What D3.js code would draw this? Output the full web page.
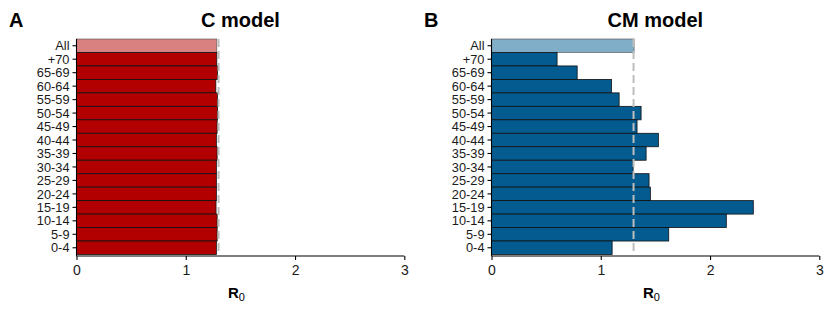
<!DOCTYPE html>
<html><head><meta charset="utf-8">
<script src="https://cdn.jsdelivr.net/npm/d3@7"></script>
<style>body{margin:0;background:#fff}svg{display:block;font-family:"Liberation Sans",Arial,sans-serif}</style>
</head><body><svg id="c" width="830" height="312"></svg>
<script>
const categories = ["All","+70","65-69","60-64","55-59","50-54","45-49","40-44","35-39","30-34","25-29","20-24","15-19","10-14","5-9","0-4"];
const cModel = [1.284,1.284,1.29,1.275,1.29,1.29,1.287,1.28,1.287,1.28,1.28,1.28,1.277,1.287,1.287,1.28];
const cmModel = [1.305,0.60,0.784,1.098,1.168,1.369,1.332,1.527,1.415,1.296,1.442,1.454,2.396,2.149,1.622,1.104];
const meanR0 = [1.30,1.30];
const xTicks = [0,1,2,3];
const panels = [
  {tag:"A", title:"C model", values:cModel, mean:meanR0[0], x0:76.5, main:"#b20000", light:"#d98080"},
  {tag:"B", title:"CM model", values:cmModel, mean:meanR0[1], x0:491.5, main:"#035b8f", light:"#80adc7"}
];
const svg = d3.select("#c");
const plotTop = 39, plotBottom = 254.5;
panels.forEach(p => {
  const g = svg.append("g");
  const x = d3.scaleLinear().domain([0,3]).range([p.x0, p.x0 + 327.8]);
  const y = d3.scaleBand().domain(categories).range([plotTop, plotBottom]).padding(0);
  g.selectAll("rect.bar").data(p.values).join("rect")
    .attr("x", x(0)).attr("y", (d,i)=>y(categories[i]))
    .attr("width", d => x(d) - x(0)).attr("height", y.bandwidth())
    .attr("fill", (d,i)=> i===0 ? p.light : p.main)
    .attr("stroke", (d,i)=> i===0 ? "#555" : "#111")
    .attr("stroke-opacity", (d,i)=> i===0 ? 0.8 : 1)
    .attr("stroke-width", 0.8);
  g.append("line").attr("x1", x(p.mean)).attr("x2", x(p.mean))
    .attr("y1", plotTop).attr("y2", plotBottom)
    .attr("stroke", "#bdbdbd").attr("stroke-width", 2).attr("stroke-dasharray", "8,4");
  const xa = g.append("g").attr("transform", `translate(0,${plotBottom+1.5})`)
    .call(d3.axisBottom(x).tickValues(xTicks).tickFormat(d3.format("d")).tickSize(4).tickPadding(5));
  const ya = g.append("g").attr("transform", `translate(${x(0)},0)`)
    .call(d3.axisLeft(y).tickSize(4).tickPadding(3));
  [xa, ya].forEach(a => {
    a.select(".domain").attr("stroke", "#000").attr("stroke-width", 1.1);
    a.selectAll(".tick line").attr("stroke", "#000").attr("stroke-width", 1.1);
    a.selectAll("text").attr("fill", "#1a1a1a").style("font-family", "'Liberation Sans',Arial,sans-serif");
  });
  xa.selectAll("text").style("font-size", "14px").attr("dy", "0.72em");
  ya.selectAll("text").style("font-size", "12.8px").attr("dy", "0.36em");
  xa.select(".domain").attr("d", `M${x(0)},0H${x(3)}`);
  ya.select(".domain").attr("d", `M0,${plotTop}V${plotBottom+1.5}`);
  const cx = (x(0) + x(3)) / 2;
  g.append("text").attr("x", cx).attr("y", 26.5).attr("text-anchor", "middle")
    .style("font-size", "20px").style("font-weight", "bold").text(p.title);
  g.append("text").attr("x", p.x0 - 67.5).attr("y", 26.5)
    .style("font-size", "20px").style("font-weight", "bold").text(p.tag);
  const lab = g.append("text").attr("x", x(1.5) - 4).attr("y", 298).attr("text-anchor", "middle");
  lab.append("tspan").style("font-size", "15px").style("font-weight", "bold").text("R");
  lab.append("tspan").attr("dy", 3).style("font-size", "11px").text("0");
});
</script></body></html>
